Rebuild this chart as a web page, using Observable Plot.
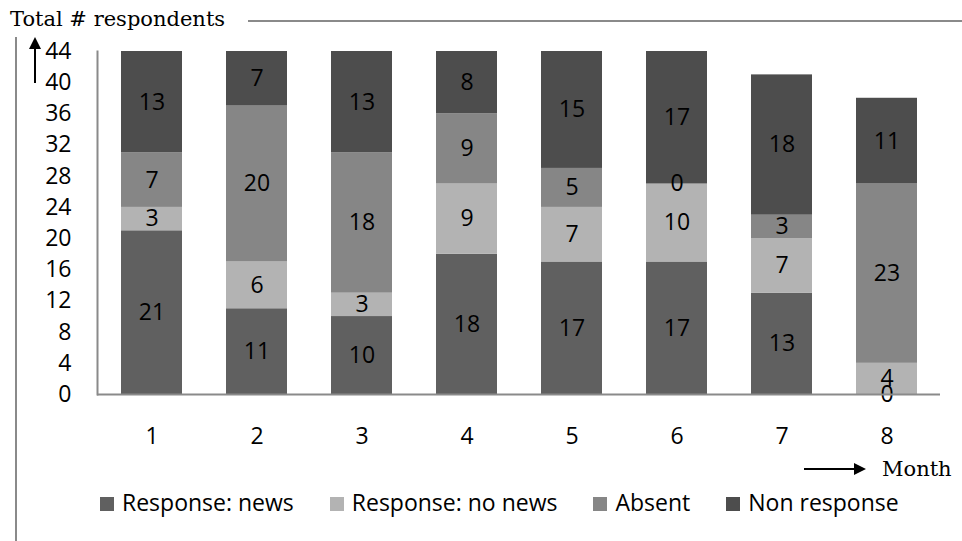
<!DOCTYPE html>
<html>
<head>
<meta charset="utf-8">
<script src="https://cdn.jsdelivr.net/npm/d3@7"></script>
<script src="https://cdn.jsdelivr.net/npm/@observablehq/plot@0.6"></script>
<style>
  html, body { margin: 0; padding: 0; background: #fff; }
  #wrap { position: relative; width: 962px; height: 541px; overflow: hidden; font-family: "Open Sans", Lato, sans-serif; }
  #wrap > svg.deco { position: absolute; left: 0; top: 0; }
  #chart { position: absolute; left: 0; top: 0; }
  #legend { position: absolute; left: 100px; top: 488px; display: flex; align-items: center; font-size: 23px; line-height: 28px; color: #000; }
  #legend .item { display: flex; align-items: center; margin-right: 36px; }
  #legend .sw { width: 14px; height: 14px; margin-right: 8px; position: relative; top: 2px; }
</style>
</head>
<body>
<div id="wrap">
  <div id="chart"></div>
  <svg class="deco" width="962" height="541">
    <text x="10" y="26" font-family="DejaVu Serif" font-size="21" fill="#000">Total # respondents</text>
    <line x1="248" y1="21" x2="962" y2="21" stroke="#8a8a8a" stroke-width="2"/>
    <line x1="16" y1="37" x2="16" y2="541" stroke="#8a8a8a" stroke-width="2"/>
    <line x1="35" y1="46" x2="35" y2="83" stroke="#000" stroke-width="2"/>
    <path d="M29,49 L35,37 L41,49 Z" fill="#000"/>
    <line x1="804" y1="469" x2="856" y2="469" stroke="#000" stroke-width="2"/>
    <path d="M854,463 L866,469 L854,475 Z" fill="#000"/>
    <text x="882" y="476" font-family="DejaVu Serif" font-size="21" fill="#000">Month</text>
  </svg>
  <div id="legend"></div>
</div>
<script>
const months = [1, 2, 3, 4, 5, 6, 7, 8];
const series = ["Response: news", "Response: no news", "Absent", "Non response"];
const colors = ["#606060", "#b3b3b3", "#868686", "#4d4d4d"];
const responseNews   = [21, 11, 10, 18, 17, 17, 13, 0];
const responseNoNews = [3, 6, 3, 9, 7, 10, 7, 4];
const absent         = [7, 20, 18, 9, 5, 0, 3, 23];
const nonResponse    = [13, 7, 13, 8, 15, 17, 18, 11];
const yTicks = [0, 4, 8, 12, 16, 20, 24, 28, 32, 36, 40, 44];

const values = [responseNews, responseNoNews, absent, nonResponse];
const rows = [];
months.forEach((m, i) => {
  let base = 0;
  series.forEach((s, k) => {
    const v = values[k][i];
    rows.push({month: m, series: s, value: v, y1: base, y2: base + v, mid: base + v / 2});
    base += v;
  });
});

const chart = Plot.plot({
  width: 962,
  height: 541,
  marginLeft: 97,
  marginRight: 22,
  marginTop: 51,
  marginBottom: 147,
  style: {fontFamily: "'Open Sans', Lato, sans-serif", fontSize: "23px", color: "#000", background: "transparent"},
  x: {domain: months, paddingInner: 0.42, paddingOuter: 0.21, label: null},
  y: {domain: [0, 44], ticks: yTicks, label: null},
  color: {domain: series, range: colors},
  marks: [
    Plot.barY(rows, {x: "month", y1: "y1", y2: "y2", fill: "series"}),
    Plot.text(rows, {x: "month", y: "mid", text: d => String(d.value), fill: "#000", fontSize: 23}),
    Plot.frame({anchor: "left", stroke: "#8a8a8a", strokeWidth: 2}),
    Plot.ruleY([0], {stroke: "#8a8a8a", strokeWidth: 2}),
    Plot.axisY({ticks: yTicks, tickSize: 0, tickPadding: 26, label: null, fontSize: 23}),
    Plot.axisX({tickSize: 0, tickPadding: 33, label: null, fontSize: 23})
  ]
});
document.getElementById("chart").appendChild(chart);

const legend = document.getElementById("legend");
series.forEach((s, k) => {
  const item = document.createElement("div");
  item.className = "item";
  const sw = document.createElement("div");
  sw.className = "sw";
  sw.style.background = colors[k];
  const t = document.createElement("span");
  t.textContent = s;
  item.appendChild(sw);
  item.appendChild(t);
  legend.appendChild(item);
});
</script>
</body>
</html>
